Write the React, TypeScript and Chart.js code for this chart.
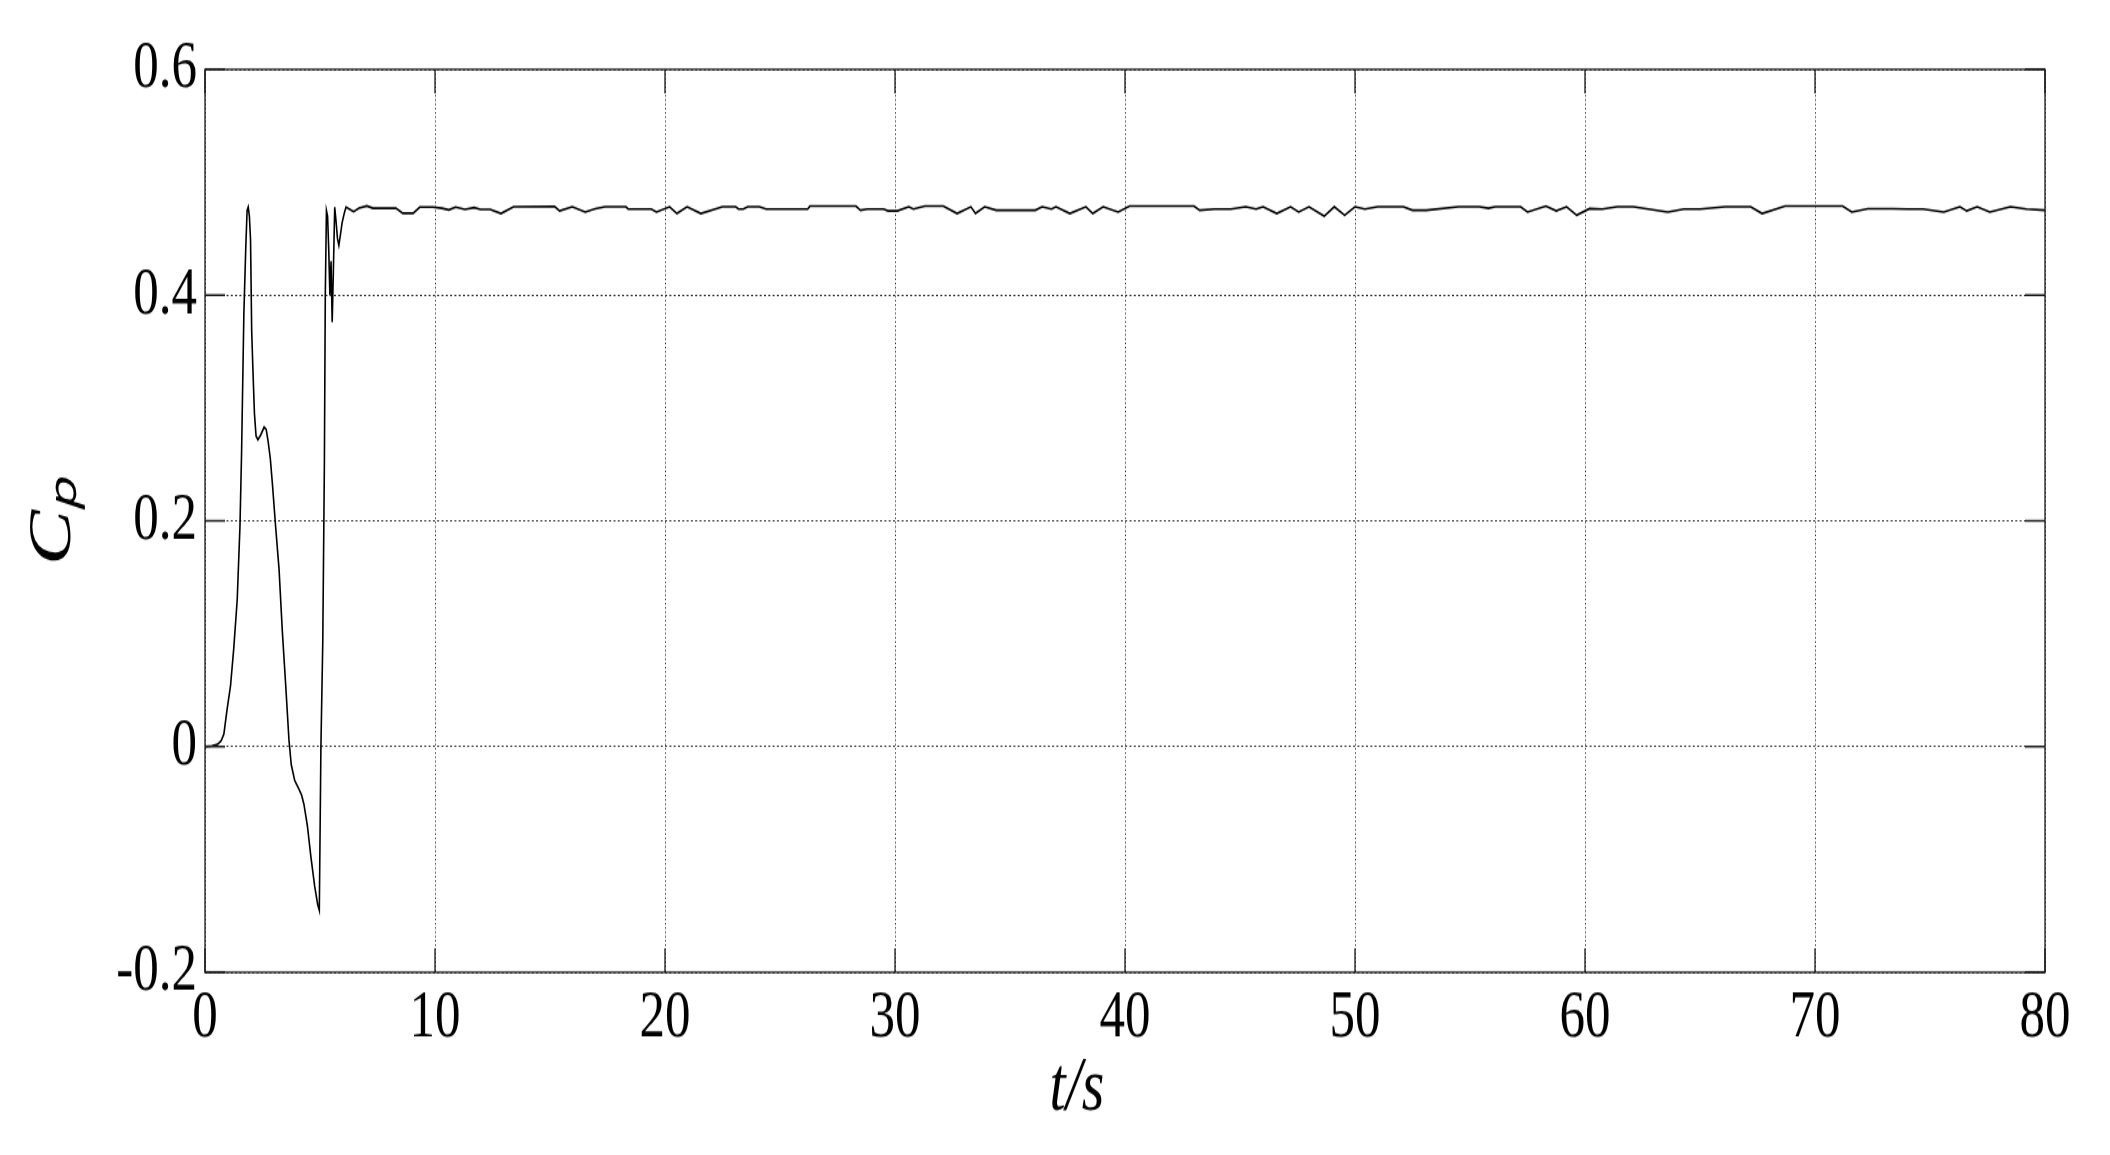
import { useEffect, useRef } from 'react';
import { Chart, registerables } from 'chart.js';

Chart.register(...registerables);

// time (s)
const timeS = [
  0, 0.3, 0.55, 0.7, 0.82, 0.96, 1.11, 1.25, 1.4, 1.52, 1.59, 1.69, 1.77, 1.83, 1.88, 1.93, 1.98,
  2.03, 2.09, 2.15, 2.22, 2.3, 2.42, 2.57, 2.66, 2.74, 2.84, 2.93, 3.07, 3.22, 3.36, 3.51, 3.65,
  3.75, 3.9, 4.09, 4.2, 4.3, 4.45, 4.6, 4.77, 4.9, 4.97, 5.04, 5.12, 5.19, 5.23, 5.28, 5.33,
  5.38, 5.43, 5.48, 5.53, 5.58, 5.64, 5.7, 5.76, 5.82, 5.9, 5.96, 6.05, 6.13, 6.3, 6.46, 6.7, 7.04,
  7.3, 8.3, 8.6, 9.05, 9.34, 9.9, 10.3, 10.6, 10.9, 11.3, 11.7, 11.98, 12.4, 12.87, 13.42, 15.2,
  15.42, 15.97, 16.53, 16.97, 17.4, 18.3, 18.4, 19.4, 19.63, 20.2, 20.52, 20.96, 21.56, 22.18, 22.5,
  23.07, 23.2, 23.4, 23.6, 24.1, 24.4, 26.2, 26.3, 28.3, 28.5, 28.8, 29.5, 29.7, 30.1, 30.6, 30.8,
  31.3, 32.1, 32.7, 33.3, 33.5, 33.9, 34.4, 34.8, 35.4, 36.1, 36.4, 36.8, 37.0, 37.6, 38.3, 38.6,
  39.05, 39.7, 40.2, 43.0, 43.25, 43.9, 44.6, 45.25, 45.7, 46.0, 46.6, 47.2, 47.55, 48.0, 48.66,
  49.1, 49.55, 50.0, 50.43, 50.99, 52.1, 52.5, 53.1, 54.5, 55.4, 55.8, 56.1, 57.2, 57.5, 58.3,
  58.75, 59.2, 59.64, 60.2, 60.75, 61.4, 62.1, 63.6, 64.3, 65.0, 66.1, 67.2, 67.7, 68.3, 68.7,
  71.2, 71.6, 72.3, 73.4, 74.0, 74.7, 75.6, 76.3, 76.6, 77.05, 77.6, 78.5, 79.2, 80.0,
];

// power coefficient Cp
const cpValues = [
  0, 0.0005, 0.002, 0.005, 0.011, 0.033, 0.054, 0.087, 0.13, 0.195, 0.26, 0.384, 0.44, 0.475, 0.478, 0.47, 0.449,
  0.368, 0.33, 0.295, 0.275, 0.272, 0.276, 0.283, 0.281, 0.271, 0.255, 0.233, 0.195, 0.157, 0.103, 0.054, 0.006,
  -0.016, -0.03, -0.038, -0.043, -0.051, -0.07, -0.097, -0.124, -0.14, -0.145, 0, 0.092, 0.249, 0.4, 0.475, 0.47,
  0.44, 0.4, 0.43, 0.376, 0.42, 0.478, 0.465, 0.45, 0.444, 0.455, 0.464, 0.472, 0.478, 0.476, 0.474, 0.477, 0.479,
  0.477, 0.477, 0.4725, 0.4725, 0.478, 0.478, 0.477, 0.4755, 0.478, 0.476, 0.4775, 0.476, 0.476, 0.4723, 0.4782, 0.4785,
  0.4746, 0.4782, 0.4736, 0.4766, 0.4782, 0.4782, 0.4762, 0.4762, 0.4736, 0.4782, 0.4723, 0.4782, 0.4723, 0.4762, 0.4782,
  0.4782, 0.4762, 0.4762, 0.4782, 0.4782, 0.4762, 0.4762, 0.4788, 0.4788, 0.4752, 0.4762, 0.4762, 0.4746, 0.4746, 0.4782, 0.4762,
  0.4788, 0.4788, 0.4723, 0.4782, 0.4723, 0.4782, 0.4752, 0.4752, 0.4752, 0.4752, 0.4782, 0.4762, 0.4782, 0.4723, 0.4782, 0.4723,
  0.4782, 0.4736, 0.4788, 0.4788, 0.4752, 0.4762, 0.4762, 0.4782, 0.4762, 0.4782, 0.4723, 0.4782, 0.4736, 0.4782, 0.4699,
  0.4782, 0.4708, 0.4782, 0.4762, 0.4782, 0.4782, 0.4752, 0.4752, 0.4782, 0.4782, 0.477, 0.4782, 0.4782, 0.4736, 0.4788,
  0.4746, 0.4782, 0.4708, 0.4766, 0.4762, 0.4782, 0.4782, 0.4736, 0.4762, 0.4762, 0.4782, 0.4782, 0.4723, 0.4762, 0.4788,
  0.4788, 0.4736, 0.4766, 0.4766, 0.4762, 0.4762, 0.4736, 0.4782, 0.4746, 0.4782, 0.4736, 0.4782, 0.4762, 0.4752,
];

const xTickStep = 10;
const yTickStep = 0.2;
const xRange = [0, 80];
const yRange = [-0.2, 0.6];
const xTitle = 't/s';
const yTitle = 'Cₚ';

const SERIF = '"Liberation Serif", "Times New Roman", Times, serif';

const framePlugin = {
  id: 'matlabFrame',
  afterDraw(chart: any) {
    const { ctx, chartArea, scales } = chart;
    const { left, right, top, bottom } = chartArea;
    const xs = scales.x;
    const ys = scales.y;
    ctx.save();
    ctx.setLineDash([]);
    ctx.strokeStyle = '#1a1a1a';
    ctx.lineWidth = 1.3;
    ctx.beginPath();
    xs.ticks.forEach((t: any) => {
      const px = xs.getPixelForValue(t.value);
      ctx.moveTo(px, bottom);
      ctx.lineTo(px, bottom - 18);
      ctx.moveTo(px, top);
      ctx.lineTo(px, top + 18);
    });
    ys.ticks.forEach((t: any) => {
      const py = ys.getPixelForValue(t.value);
      ctx.moveTo(left, py);
      ctx.lineTo(left + 20, py);
      ctx.moveTo(right, py);
      ctx.lineTo(right - 20, py);
    });
    ctx.stroke();
    ctx.strokeRect(left, top, right - left, bottom - top);
    ctx.restore();
  },
};

// shifts the x-axis title left of the axis centre, as in the original figure
const xTitleOffsetPlugin = {
  id: 'xTitleOffset',
  beforeDraw(chart: any) {
    const xs = chart.scales.x;
    if (xs && !xs._titleShifted) {
      const orig = xs.drawTitle.bind(xs);
      xs.drawTitle = function () {
        const c = this.ctx;
        c.save();
        c.translate(-48, 0);
        orig();
        c.restore();
      };
      xs._titleShifted = true;
    }
  },
};

export default function App() {
  const ref = useRef<HTMLCanvasElement>(null);

  useEffect(() => {
    if (!ref.current) return;
    const points = timeS.map((t, i) => ({ x: t, y: cpValues[i] }));
    const chart = new Chart(ref.current, {
      type: 'line',
      data: {
        datasets: [
          {
            data: points,
            borderColor: '#000',
            borderWidth: 1.6,
            pointRadius: 0,
            tension: 0,
            fill: false,
          },
        ],
      },
      options: {
        animation: false,
        responsive: false,
        maintainAspectRatio: false,
        devicePixelRatio: 1,
        layout: { padding: { left: 17, right: 65, top: 52, bottom: 14 } },
        plugins: { legend: { display: false }, tooltip: { enabled: false } },
        scales: {
          x: {
            type: 'linear',
            min: xRange[0],
            max: xRange[1],
            afterFit: (s: any) => {
              s.height = 123;
            },
            ticks: {
              stepSize: xTickStep,
              padding: 4,
              maxRotation: 0,
              autoSkip: false,
              color: '#000',
              font: { family: SERIF, size: 51 },
            },
            grid: { color: '#333', lineWidth: 1, drawTicks: false },
            border: { display: false, dash: [1.2, 2.0] },
            title: {
              display: true,
              text: xTitle,
              color: '#000',
              padding: 0,
              font: { family: SERIF, size: 58, style: 'italic' },
            },
          },
          y: {
            type: 'linear',
            min: yRange[0],
            max: yRange[1],
            afterFit: (s: any) => {
              s.width = 188;
            },
            ticks: {
              stepSize: yTickStep,
              padding: 8,
              color: '#000',
              font: { family: SERIF, size: 51 },
              callback: (v: any) => String(Number(Number(v).toFixed(1))),
            },
            grid: { color: '#333', lineWidth: 1, drawTicks: false },
            border: { display: false, dash: [2, 2.3] },
            title: {
              display: true,
              text: yTitle,
              color: '#000',
              padding: 0,
              font: { family: SERIF, size: 62, style: 'italic' },
            },
          },
        },
      },
      plugins: [xTitleOffsetPlugin, framePlugin],
    } as any);
    return () => chart.destroy();
  }, []);

  return (
    <div style={{ position: 'fixed', left: 0, top: 0, width: 2110, height: 1155, background: '#fff' }}>
      <canvas
        ref={ref}
        width={2110}
        height={866}
        style={{ display: 'block', width: '2110px', height: '1155px' }}
      />
    </div>
  );
}
